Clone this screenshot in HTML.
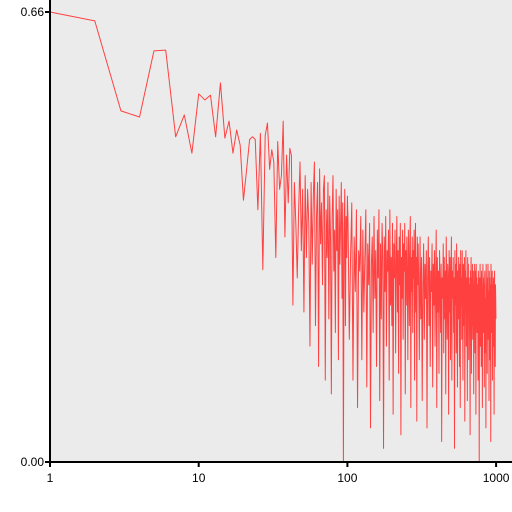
<!DOCTYPE html>
<html><head><meta charset="utf-8"><style>
html,body{margin:0;padding:0;background:#fff;}
svg{display:block;font-family:"Liberation Sans",sans-serif;}
</style></head><body>
<svg id="chart" width="512" height="512">
<rect x="50" y="0" width="462" height="462" fill="#ebebeb"/>
<g id="marks"></g>
<line x1="50" y1="0" x2="50" y2="463" stroke="#000" stroke-width="2"/>
<line x1="49" y1="462" x2="512" y2="462" stroke="#000" stroke-width="2"/>
<g id="axes"></g>
</svg>
<script>
const yTicks=[0,0.66];
const yTickLabels=["0.00","0.66"];
const xTicks=[1,10,100,1000];
const xTickLabels=["1","10","100","1000"];
const headValues=[.66,.647,.515,.506,.603,.604,.477,.509,.453,.540,.531,.538,.477,.556,.475,.500,.453,.487,.465,.384,.429,.473,.477,.473,.370,.482,.282,.479,.497,.429,.458,
.44,.30,.47,.40,.42,.50,.33,.45,.38,.46,.45,.23,.41,.35,.27,.37,.44,.31,.40,
.22,.42,.30,.40,.35,.17,.41,.29,.39,.44,.20,.36,.41,.14,.43,.32,.38,.26,.40,.42,
.12,.37,.30,.41,.21,.39,.33,.10,.36,.42,.28,.34,.19,.40,.31,.37,.15,.39,.29,.35,.41,.24,.38,.00,.33,.40,.20,.36,.30,.39];
const midValues=[
.35,.18,.30,.38,.12,.33,.25,.37,.08,.31,.28,.36,.15,.34,.22,.30,.37,.11,.32,.26,
.35,.05,.29,.33,.19,.36,.24,.31,.14,.34,.27,.37,.09,.32,.21,.35,.30,.02,.33,.25,
.36,.17,.31,.28,.34,.12,.37,.23,.30,.20,.35,.07,.32,.27,.34,.16,.29,.36,.22,.31,
.13,.33,.26,.35,.04,.30,.24,.34,.18,.32,.28,.35,.10,.31,.23,.33,.27,.15,.34,.29,
.20,.32,.36,.08,.30,.25,.33,.19,.31,.27,.34,.12,.29,.35,.22,.30,.06,.33,.26,.32];
const tailValues=[
.28,.15,.33,.21,.30,.09,.26,.32,.18,.29,.24,.31,.05,.27,.33,.20,.30,.14,.28,.25,
.32,.11,.29,.23,.31,.17,.27,.34,.08,.30,.22,.28,.13,.31,.26,.19,.29,.03,.27,.24,
.32,.16,.30,.21,.28,.10,.33,.25,.18,.29,.27,.07,.31,.22,.30,.15,.26,.33,.12,.28,
.24,.30,.19,.27,.02,.31,.23,.29,.16,.32,.25,.11,.28,.21,.30,.26,.14,.29,.08,.31,
.23,.27,.18,.31,.24,.12,.29,.26,.20,.30,.06,.28,.22,.31,.17,.27,.25,.09,.30,.23,
.29,.15,.27,.21,.26,.04,.28,.24,.30,.13,.27,.20,.29,.18,.25,.28,.10,.26,.23,.29,
.16,.26,.28,.07,.29,.22,.27,.19,.26,.24,.12,.28,.25,.21,.00,.27,.21,.29,.17,.26,
.27,.14,.28,.23,.25,.08,.25,.29,.19,.27,.22,.26,.11,.26,.28,.16,.24,.24,.05,.29,
.26,.20,.25,.13,.27,.23,.29,.18,.25,.22,.09,.28,.21,.27,.15,.26,.24,.03,.29,.26,
.19,.25,.22,.28,.12,.26,.24,.17,.27,.23,.20,.07,.25,.28,.20,.26,.14,.26,.24,.21];
const NS="http://www.w3.org/2000/svg";
const xIndex=[];
headValues.forEach((v,i)=>xIndex.push(i+1));
midValues.forEach((v,i)=>xIndex.push(101+i*2));
tailValues.forEach((v,i)=>xIndex.push(301+i*3.5));
const values=headValues.concat(midValues,tailValues);
function xScale(v){return 50+Math.log10(v)*148.7;}
function yScale(v){return 462-v/0.66*450;}
const marks=document.getElementById('marks');
let d="";
values.forEach((v,i)=>{d+=(i?"L":"M")+xScale(xIndex[i]).toFixed(2)+","+yScale(v).toFixed(2);});
const path=document.createElementNS(NS,'path');
path.setAttribute('d',d);
path.setAttribute('fill','none');
path.setAttribute('stroke','#ff4040');
path.setAttribute('stroke-width','1');
path.setAttribute('stroke-linejoin','round');


marks.appendChild(path);
const axes=document.getElementById('axes');
xTicks.forEach((t,i)=>{
  const x=xScale(t);
  const ln=document.createElementNS(NS,'line');
  ln.setAttribute('x1',x);ln.setAttribute('x2',x);ln.setAttribute('y1',462);ln.setAttribute('y2',467);
  ln.setAttribute('stroke','#000');ln.setAttribute('stroke-width','2');
  
  
  axes.appendChild(ln);
  const tx=document.createElementNS(NS,'text');
  tx.setAttribute('x',x);tx.setAttribute('y',482);tx.setAttribute('text-anchor','middle');
  tx.setAttribute('font-size','12');tx.textContent=xTickLabels[i];
  
  
  axes.appendChild(tx);
});
yTicks.forEach((t,i)=>{
  const y=yScale(t);
  const ln=document.createElementNS(NS,'line');
  ln.setAttribute('x1',45);ln.setAttribute('x2',50);ln.setAttribute('y1',y);ln.setAttribute('y2',y);
  ln.setAttribute('stroke','#000');ln.setAttribute('stroke-width','2');
  
  
  axes.appendChild(ln);
  const tx=document.createElementNS(NS,'text');
  tx.setAttribute('x',44);tx.setAttribute('y',y+4);tx.setAttribute('text-anchor','end');
  tx.setAttribute('font-size','12');tx.textContent=yTickLabels[i];
  
  
  axes.appendChild(tx);
});
</script>
</body></html>
